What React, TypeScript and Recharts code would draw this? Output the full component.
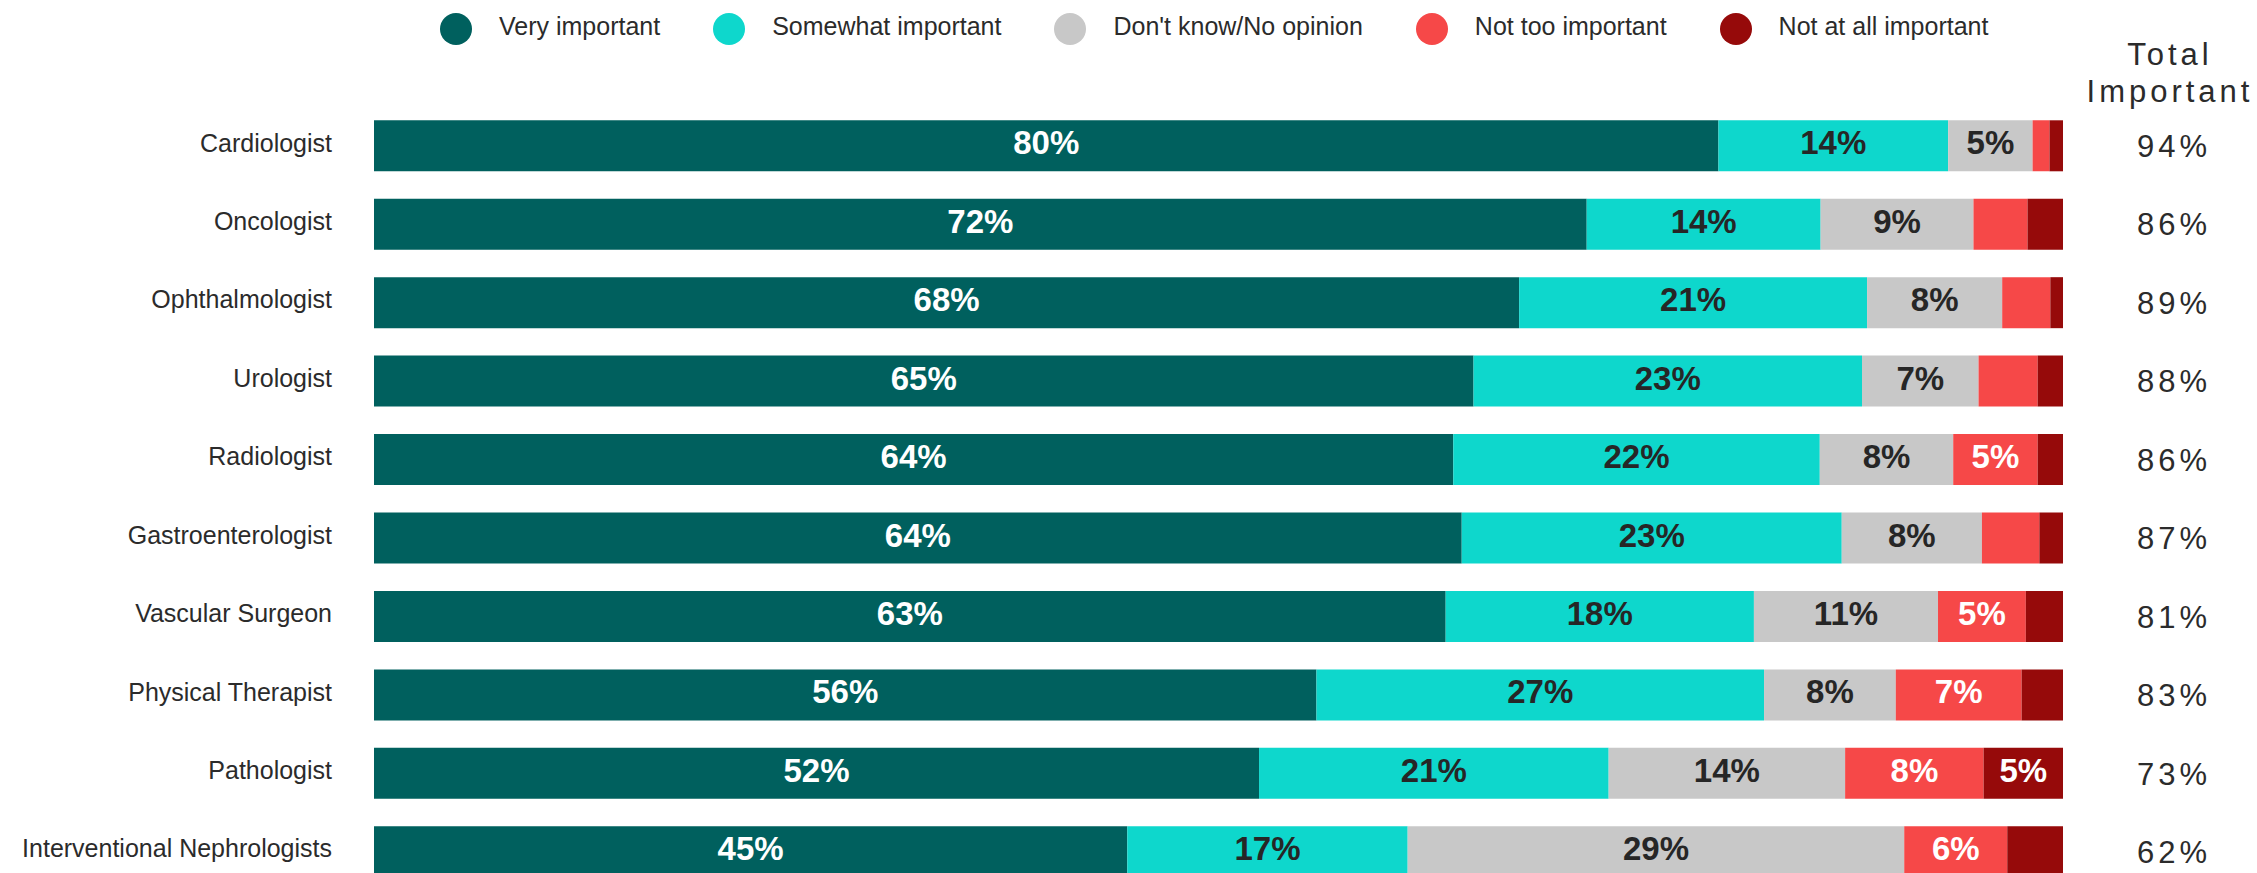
import React from 'react';
import { BarChart, Bar, XAxis, YAxis, Legend, LabelList } from 'recharts';

const categories = [
  'Cardiologist',
  'Oncologist',
  'Ophthalmologist',
  'Urologist',
  'Radiologist',
  'Gastroenterologist',
  'Vascular Surgeon',
  'Physical Therapist',
  'Pathologist',
  'Interventional Nephrologists',
];
const veryImportant = [79.6, 71.8, 67.8, 65.1, 63.9, 64.4, 63.45, 55.8, 52.4, 44.6];
const somewhatImportant = [13.6, 13.85, 20.6, 23.0, 21.7, 22.5, 18.25, 26.5, 20.7, 16.6];
const dontKnow = [5.0, 9.05, 8.0, 6.9, 7.9, 8.3, 10.9, 7.8, 14.0, 29.4];
const notTooImportant = [1.0, 3.2, 2.85, 3.5, 5.0, 3.4, 5.2, 7.45, 8.2, 6.1];
const notAtAllImportant = [0.8, 2.1, 0.75, 1.5, 1.5, 1.4, 2.2, 2.45, 4.7, 3.3];
const totalImportant = [94, 86, 89, 88, 86, 87, 81, 83, 73, 62];

const seriesKeys = ['very', 'somewhat', 'dontKnow', 'notToo', 'notAtAll'];
const seriesNames = [
  'Very important',
  'Somewhat important',
  "Don't know/No opinion",
  'Not too important',
  'Not at all important',
];
const seriesColors = ['#00605E', '#0ED7CC', '#C8C8C8', '#F64848', '#960A0A'];
const labelColors = ['#FFFFFF', '#262626', '#262626', '#FFFFFF', '#FFFFFF'];

const data = categories.map((name, i) => ({
  name,
  very: veryImportant[i],
  somewhat: somewhatImportant[i],
  dontKnow: dontKnow[i],
  notToo: notTooImportant[i],
  notAtAll: notAtAllImportant[i],
  total: totalImportant[i],
}));

const FONT = '"Liberation Sans", Arial, Helvetica, sans-serif';
const TEXT = '#2b2b2b';

function makeLabel(color: string) {
  return (props: any) => {
    const x = Number(props.x);
    const y = Number(props.y);
    const width = Number(props.width);
    const height = Number(props.height);
    const value = Number(props.value);
    if (!isFinite(value) || value < 4.5) return null;
    return (
      <text
        x={x + width / 2}
        y={y + height / 2 + 8.5}
        textAnchor="middle"
        fill={color}
        fontSize={33}
        fontWeight="bold"
        fontFamily={FONT}
      >
        {Math.round(value)}%
      </text>
    );
  };
}

const CategoryTick = (props: any) => {
  const { x, y, payload } = props;
  return (
    <text x={x} y={Number(y) + 6} textAnchor="end" fill={TEXT} fontSize={25} fontFamily={FONT}>
      {payload.value}
    </text>
  );
};

const TotalTick = (props: any) => {
  const { x, y, payload } = props;
  const idx = categories.indexOf(payload.value);
  return (
    <text
      x={x}
      y={Number(y) + 11.5}
      textAnchor="middle"
      fill={TEXT}
      fontSize={31}
      fontFamily={FONT}
      style={{ letterSpacing: '4px' }}
    >
      {totalImportant[idx]}%
    </text>
  );
};

const renderLegend = () => (
  <div
    style={{
      display: 'flex',
      alignItems: 'center',
      paddingLeft: 440,
      paddingTop: 13,
      fontFamily: FONT,
      fontSize: 25,
      color: TEXT,
    }}
  >
    {seriesNames.map((n, i) => (
      <div key={n} style={{ display: 'flex', alignItems: 'center', marginRight: 53 }}>
        <span
          style={{
            width: 32,
            height: 32,
            borderRadius: '50%',
            background: seriesColors[i],
            display: 'inline-block',
            marginRight: 27,
          }}
        />
        <span style={{ position: 'relative', top: -3, whiteSpace: 'nowrap' }}>{n}</span>
      </div>
    ))}
  </div>
);

export default function App() {
  return (
    <div
      style={{
        position: 'absolute',
        left: 0,
        top: 0,
        width: 2257,
        height: 873,
        overflow: 'hidden',
        background: '#ffffff',
      }}
    >
      <BarChart
        width={2257}
        height={900}
        data={data}
        layout="vertical"
        margin={{ top: 106.3, right: 0, left: 0, bottom: 9.3 }}
      >
        <XAxis type="number" domain={[0, 100]} hide />
        <YAxis
          yAxisId="left"
          type="category"
          dataKey="name"
          width={374}
          axisLine={false}
          tickLine={false}
          tickSize={0}
          tickMargin={42}
          interval={0}
          tick={<CategoryTick />}
        />
        <YAxis
          yAxisId="right"
          orientation="right"
          type="category"
          dataKey="name"
          width={194}
          axisLine={false}
          tickLine={false}
          tickSize={0}
          tickMargin={111}
          interval={0}
          tick={<TotalTick />}
        />
        <Legend
          layout="horizontal"
          verticalAlign="middle"
          align="center"
          content={renderLegend}
          wrapperStyle={{ top: 0, left: 0, width: 2257, height: 60 }}
        />
        {seriesKeys.map((k, i) => (
          <Bar
            key={k}
            yAxisId="left"
            dataKey={k}
            name={seriesNames[i]}
            stackId="a"
            fill={seriesColors[i]}
            barSize={51}
            isAnimationActive={false}
          >
            <LabelList dataKey={k} content={makeLabel(labelColors[i])} />
          </Bar>
        ))}
      </BarChart>
      <div
        style={{
          position: 'absolute',
          left: 2070,
          top: 35.8,
          width: 200,
          textAlign: 'center',
          fontFamily: FONT,
          fontSize: 31,
          letterSpacing: '4px',
          lineHeight: '37px',
          color: TEXT,
        }}
      >
        Total
        <br />
        Important
      </div>
    </div>
  );
}
